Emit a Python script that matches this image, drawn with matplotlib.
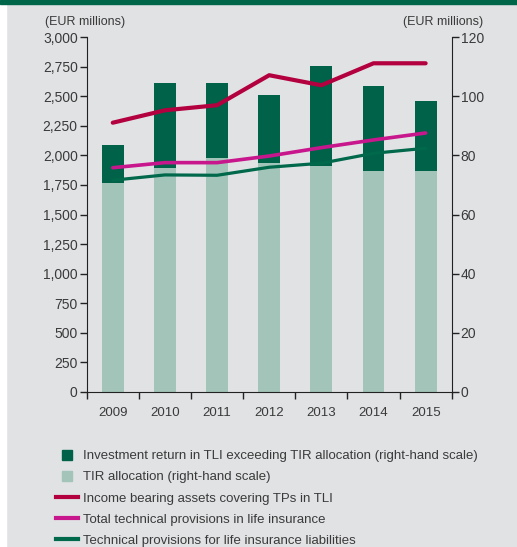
import numpy as np
import matplotlib
matplotlib.use("Agg")
import matplotlib.pyplot as plt
from matplotlib.patches import Rectangle
from matplotlib.lines import Line2D

years = ["2009", "2010", "2011", "2012", "2013", "2014", "2015"]
# bars, right-hand scale
tir_alloc = [70.7, 75.7, 79.2, 77.3, 76.4, 74.7, 74.7]
bar_total = [83.5, 104.5, 104.5, 100.5, 110.3, 103.5, 98.4]
excess = [t - a for t, a in zip(bar_total, tir_alloc)]
# lines, left-hand scale
income_assets = [2277, 2382, 2425, 2679, 2594, 2780, 2780]
total_tp = [1896, 1939, 1939, 1995, 2066, 2131, 2190]
tp_liab = [1790, 1835, 1832, 1900, 1934, 2018, 2061]

labels = ["Investment return in TLI exceeding TIR allocation (right-hand scale)",
          "TIR allocation (right-hand scale)",
          "Income bearing assets covering TPs in TLI",
          "Total technical provisions in life insurance",
          "Technical provisions for life insurance liabilities"]

bg = "#e1e2e4"
dark = "#006249"
light = "#a3c4b8"
red = "#b3003f"
mag = "#c8168c"
grn = "#00684b"
txt = "#3a3a3a"

plt.rcParams['font.family'] = ['Liberation Sans', 'DejaVu Sans']

fig = plt.figure(figsize=(5.17, 5.47), dpi=100)
fig.patch.set_facecolor(bg)
fig.patches.append(Rectangle((0, 0), 6/517, 1, transform=fig.transFigure, color="white", zorder=0))
fig.patches.append(Rectangle((0, 1 - 4/547), 1, 4/547, transform=fig.transFigure, color="#00664a", zorder=1))

rect = [86.7/517, 1 - 391.7/547, 365/517, 354.4/547]
axb = fig.add_axes(rect)
axb.set_facecolor("none")
x = np.arange(len(years))
w = 0.42
axb.bar(x, tir_alloc, w, color=light, zorder=2)
axb.bar(x, excess, w, bottom=tir_alloc, color=dark, zorder=2)

axl = axb.twinx()
axl.plot(x, income_assets, color=red, lw=3.0, solid_capstyle="round", zorder=3)
axl.plot(x, total_tp, color=mag, lw=2.6, solid_capstyle="round", zorder=3)
axl.plot(x, tp_liab, color=grn, lw=2.3, solid_capstyle="round", zorder=3)
axl.set_ylim(0, 3000)
axl.set_yticks(range(0, 3001, 250))
axl.set_yticklabels([f"{v:,}" for v in range(0, 3001, 250)])
axl.yaxis.tick_left()
axl.tick_params(axis="y", direction="out", length=5, width=1, color="#222", pad=1.5,
                labelsize=10, labelcolor=txt)
for s in ["top", "right", "bottom"]:
    axl.spines[s].set_visible(False)
axl.spines["left"].set_visible(True)
axl.spines["left"].set_color("#222")

axb.set_ylim(0, 120)
axb.set_yticks(range(0, 121, 20))
axb.yaxis.tick_right()
axb.set_xlim(-0.5, 6.5)
axb.set_xticks(np.arange(-0.5, 7, 1))
axb.set_xticklabels([])
axb.set_xticks(x, minor=True)
axb.set_xticklabels(years, minor=True)
axb.tick_params(axis="x", which="major", direction="out", length=5, width=1, color="#222")
axb.tick_params(axis="x", which="minor", length=0, pad=11, labelsize=9.5, labelcolor=txt)
axb.tick_params(axis="y", direction="out", length=5, width=1, color="#222", pad=1.5,
                labelsize=10, labelcolor=txt)
for s in ["top", "left"]:
    axb.spines[s].set_visible(False)
for s in ["right", "bottom"]:
    axb.spines[s].set_visible(True)
    axb.spines[s].set_color("#222")

fig.text(45/517, 1 - 22/547, "(EUR millions)", ha="left", va="center", fontsize=9, color=txt)
fig.text(483/517, 1 - 22/547, "(EUR millions)", ha="right", va="center", fontsize=9, color=txt)

handles = [Line2D([], [], marker="s", ls="", markersize=7.5, color=dark),
           Line2D([], [], marker="s", ls="", markersize=7.5, color=light),
           Line2D([], [], color=red, lw=3), Line2D([], [], color=mag, lw=3),
           Line2D([], [], color=grn, lw=3)]
fig.legend(handles, labels, loc="upper left", bbox_to_anchor=(56/517, 1 - 450/547),
           frameon=False, fontsize=9.5, labelcolor=txt, handlelength=1.67,
           handletextpad=0.38, labelspacing=0.68, borderaxespad=0, borderpad=0)

fig.savefig("out.png", dpi=100, facecolor=bg)
